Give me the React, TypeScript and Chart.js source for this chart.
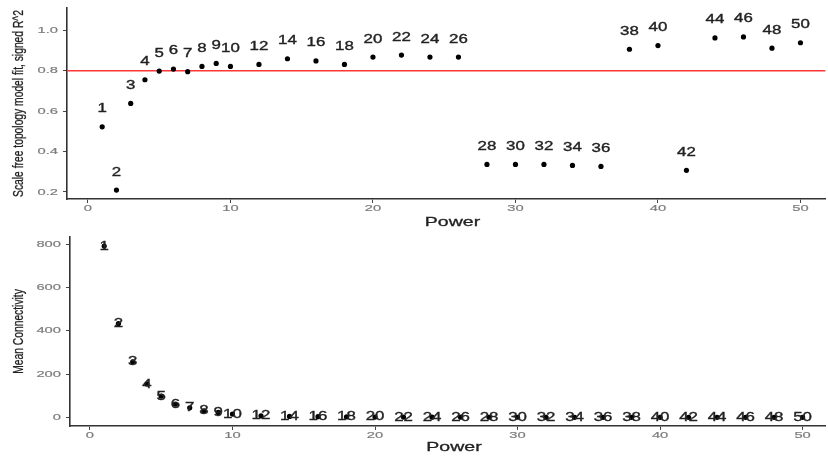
import React, { useEffect, useRef } from "react";
import { Chart, registerables } from "chart.js";

Chart.register(...registerables);

// ---------- data ----------
const powers = [1, 2, 3, 4, 5, 6, 7, 8, 9, 10, 12, 14, 16, 18, 20, 22, 24, 26, 28, 30, 32, 34, 36, 38, 40, 42, 44, 46, 48, 50];
const scaleFreeFit = [0.522, 0.209, 0.638, 0.755, 0.798, 0.808, 0.795, 0.821, 0.836, 0.821, 0.831, 0.859, 0.848, 0.831, 0.867, 0.877, 0.867, 0.867, 0.336, 0.336, 0.336, 0.331, 0.326, 0.906, 0.924, 0.307, 0.962, 0.967, 0.911, 0.938];
const meanConnectivity = [792, 434, 257, 154, 98, 61, 44, 30, 23, 15, 7, 4.5, 3.0, 2.1, 1.5, 1.1, 0.85, 0.65, 0.5, 0.4, 0.33, 0.27, 0.22, 0.18, 0.15, 0.13, 0.11, 0.09, 0.08, 0.07];
const fitThreshold = 0.8;
const fitTicks = [0.2, 0.4, 0.6, 0.8, 1.0];
const fitTickLabels = ["0.2", "0.4", "0.6", "0.8", "1.0"];
const connTicks = [0, 200, 400, 600, 800];
const connTickLabels = ["0", "200", "400", "600", "800"];
const powerTicks = [0, 10, 20, 30, 40, 50];
const powerTickLabels = ["0", "10", "20", "30", "40", "50"];
const xTitle = "Power";
const fitTitle = "Scale free topology model fit, signed R^2";
const connTitle = "Mean Connectivity";

const FONT = "'Liberation Sans', Arial, sans-serif";
const TICK_COLOR = "#7d7d7d";
const TEXT_COLOR = "#222222";

function drawText(
  ctx: CanvasRenderingContext2D,
  text: string,
  x: number,
  y: number,
  size: number,
  color: string,
  align: CanvasTextAlign,
  sx: number,
  rotate = false,
  stroke = 0
) {
  ctx.save();
  ctx.translate(x, y);
  ctx.scale(sx, 1);
  if (rotate) ctx.rotate(-Math.PI / 2);
  ctx.font = `${size}px ${FONT}`;
  ctx.fillStyle = color;
  ctx.textAlign = align;
  ctx.textBaseline = "middle";
  ctx.fillText(text, 0, 0);
  if (stroke > 0) {
    ctx.strokeStyle = color;
    ctx.lineWidth = stroke;
    ctx.strokeText(text, 0, 0);
  }
  ctx.restore();
}

type PanelCfg = {
  yTicks: number[];
  yTickLabels: string[];
  yTitle: string;
  labelOffset: number;
  threshold?: number;
  xTickDy: number;
  xTitleY: number;
};

function makePlugin(cfg: PanelCfg) {
  return {
    id: "panelText",
    beforeDatasetsDraw(chart: any) {
      if (cfg.threshold === undefined) return;
      const ctx = chart.ctx;
      const y = chart.scales.y.getPixelForValue(cfg.threshold);
      ctx.save();
      ctx.strokeStyle = "rgb(255,55,55)";
      ctx.lineWidth = 1.5;
      ctx.beginPath();
      ctx.moveTo(chart.chartArea.left, y);
      ctx.lineTo(chart.chartArea.right, y);
      ctx.stroke();
      ctx.restore();
    },
    afterDraw(chart: any) {
      const ctx = chart.ctx;
      const xs = chart.scales.x;
      const ys = chart.scales.y;
      const area = chart.chartArea;
      cfg.yTicks.forEach((v, i) => {
        drawText(ctx, cfg.yTickLabels[i], area.left - 9, ys.getPixelForValue(v), 9.5, TICK_COLOR, "right", 1.55, false, 0.2);
      });
      powerTicks.forEach((v, i) => {
        drawText(ctx, powerTickLabels[i], xs.getPixelForValue(v), area.bottom + cfg.xTickDy, 9.5, TICK_COLOR, "center", 1.55, false, 0.2);
      });
      const meta = chart.getDatasetMeta(0);
      meta.data.forEach((pt: any, i: number) => {
        drawText(ctx, String(powers[i]), pt.x, pt.y - cfg.labelOffset, 12.5, TEXT_COLOR, "center", 1.35, false, 0.35);
      });
      drawText(ctx, xTitle, (area.left + 838) / 2, cfg.xTitleY, 13, TEXT_COLOR, "center", 1.5, false, 0.3);
      drawText(ctx, cfg.yTitle, 19, (area.top + area.bottom) / 2, 10.3, TEXT_COLOR, "center", 1.4, true, 0.2);
    },
  };
}

function Panel(props: {
  values: number[];
  height: number;
  yMin: number;
  yMax: number;
  xMin: number;
  xMax: number;
  yAxisWidth: number;
  xAxisHeight: number;
  padTop: number;
  cfg: PanelCfg;
}) {
  const ref = useRef<HTMLCanvasElement | null>(null);
  useEffect(() => {
    if (!ref.current) return;
    const p = props;
    const chart = new Chart(ref.current, {
      type: "scatter",
      data: {
        datasets: [
          {
            data: powers.map((x, i) => ({ x, y: p.values[i] })),
            pointRadius: 2.6,
            pointHoverRadius: 2.6,
            backgroundColor: "#000",
            borderColor: "#000",
            borderWidth: 0,
          },
        ],
      },
      options: {
        responsive: false,
        animation: false,
        events: [],
        layout: { padding: { top: p.padTop, left: 0, right: 0, bottom: 0 } },
        plugins: { legend: { display: false }, tooltip: { enabled: false } },
        scales: {
          x: {
            type: "linear",
            min: p.xMin,
            max: p.xMax,
            afterBuildTicks: (s: any) => {
              s.ticks = powerTicks.map((v) => ({ value: v }));
            },
            afterFit: (s: any) => {
              s.height = p.xAxisHeight;
            },
            ticks: { display: false },
            grid: { drawOnChartArea: false, drawTicks: true, tickLength: 4, color: "#444", lineWidth: 1 },
            border: { display: true, color: "#333", width: 1.6 },
          },
          y: {
            type: "linear",
            min: p.yMin,
            max: p.yMax,
            afterBuildTicks: (s: any) => {
              s.ticks = p.cfg.yTicks.map((v) => ({ value: v }));
            },
            afterFit: (s: any) => {
              s.width = p.yAxisWidth;
            },
            ticks: { display: false },
            grid: { drawOnChartArea: false, drawTicks: true, tickLength: 4, color: "#444", lineWidth: 1 },
            border: { display: true, color: "#333", width: 1.6 },
          },
        },
      },
      plugins: [makePlugin(p.cfg)],
    } as any);
    return () => chart.destroy();
  }, []);
  return <canvas ref={ref} width={828} height={props.height} style={{ display: "block" }} />;
}

export default function App() {
  return (
    <div style={{ position: "absolute", left: 0, top: 0, width: 828, height: 457, background: "#fff", overflow: "hidden" }}>
      <Panel
        values={scaleFreeFit}
        height={228}
        yMin={0.165}
        yMax={1.11}
        xMin={-1.47}
        xMax={51.75}
        yAxisWidth={67}
        xAxisHeight={29}
        padTop={8}
        cfg={{
          yTicks: fitTicks,
          yTickLabels: fitTickLabels,
          yTitle: fitTitle,
          labelOffset: 18,
          threshold: fitThreshold,
          xTickDy: 9,
          xTitleY: 222,
        }}
      />
      <Panel
        values={meanConnectivity}
        height={229}
        yMin={-40}
        yMax={834}
        xMin={-1.4}
        xMax={51.6}
        yAxisWidth={70}
        xAxisHeight={31}
        padTop={9}
        cfg={{
          yTicks: connTicks,
          yTickLabels: connTickLabels,
          yTitle: connTitle,
          labelOffset: 0,
          xTickDy: 9.5,
          xTitleY: 219,
        }}
      />
    </div>
  );
}
